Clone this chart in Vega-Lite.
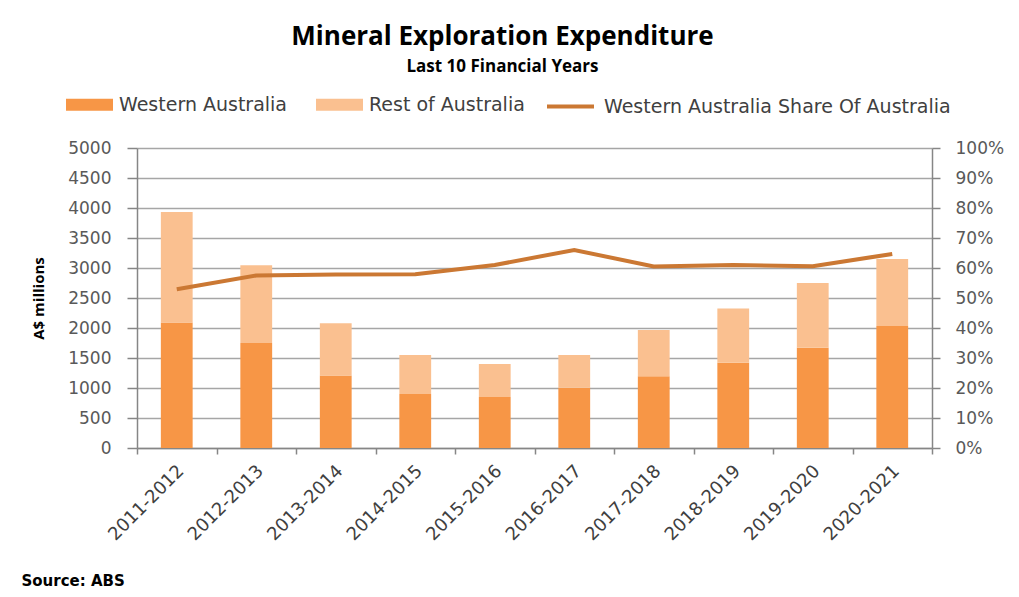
{
  "$schema": "https://vega.github.io/schema/vega-lite/v6.json",
  "autosize": {"type": "none"},
  "width": 795,
  "height": 300,
  "padding": {"left": 137, "top": 148, "right": 87, "bottom": 149},
  "background": "white",
  "title": {
    "text": "Mineral Exploration Expenditure",
    "subtitle": "Last 10 Financial Years",
    "anchor": "middle",
    "frame": "group",
    "dx": -32,
    "offset": 6,
    "font": "Open Sans",
    "fontSize": 26,
    "fontWeight": "bold",
    "color": "#000000",
    "subtitleFont": "Open Sans",
    "subtitleFontSize": 17,
    "subtitleFontWeight": "bold",
    "subtitleColor": "#000000",
    "subtitlePadding": 9
  },
  "data": {
    "values": [
      {"year": "2011-2012", "Western Australia": 2090, "Rest of Australia": 1845, "share": 0.529},
      {"year": "2012-2013", "Western Australia": 1750, "Rest of Australia": 1295, "share": 0.575},
      {"year": "2013-2014", "Western Australia": 1210, "Rest of Australia": 870, "share": 0.578},
      {"year": "2014-2015", "Western Australia": 900, "Rest of Australia": 650, "share": 0.579},
      {"year": "2015-2016", "Western Australia": 850, "Rest of Australia": 550, "share": 0.61},
      {"year": "2016-2017", "Western Australia": 1005, "Rest of Australia": 545, "share": 0.66},
      {"year": "2017-2018", "Western Australia": 1195, "Rest of Australia": 770, "share": 0.605},
      {"year": "2018-2019", "Western Australia": 1420, "Rest of Australia": 905, "share": 0.61},
      {"year": "2019-2020", "Western Australia": 1670, "Rest of Australia": 1080, "share": 0.606},
      {"year": "2020-2021", "Western Australia": 2035, "Rest of Australia": 1115, "share": 0.647}
    ]
  },
  "layer": [
    {
      "transform": [
        {"fold": ["Western Australia", "Rest of Australia"], "as": ["series", "value"]}
      ],
      "mark": {"type": "bar", "width": {"band": 0.4}},
      "encoding": {
        "x": {
          "field": "year",
          "type": "nominal",
          "scale": {"paddingInner": 0, "paddingOuter": 0},
          "axis": {
            "labelAngle": -45,
            "labelFont": "DejaVu Sans",
            "labelFontSize": 18,
            "labelColor": "#404040",
            "labelPadding": 14,
            "labelOffset": 4,
            "labelBaseline": "middle",
            "tickBand": "extent",
            "tickSize": 6,
            "title": "Source: ABS",
            "titleFont": "DejaVu Sans",
            "titleFontSize": 15,
            "titleFontWeight": "bold",
            "titleColor": "#000000",
            "titleAnchor": "start",
            "titleAlign": "left",
            "titleBaseline": "top",
            "titleX": -116,
            "titleY": 125
          }
        },
        "y": {
          "field": "value",
          "type": "quantitative",
          "stack": "zero",
          "scale": {"domain": [0, 5000]},
          "axis": {
            "values": [0, 500, 1000, 1500, 2000, 2500, 3000, 3500, 4000, 4500, 5000],
            "format": "d",
            "grid": true,
            "gridColor": "#A6A6A6",
            "gridWidth": 1.5,
            "labelFont": "DejaVu Sans",
            "labelFontSize": 17,
            "labelColor": "#595959",
            "labelPadding": 16,
            "tickSize": 10,
            "title": "A$ millions",
            "titleFont": "Open Sans",
            "titleFontSize": 15,
            "titleFontWeight": "bold",
            "titleColor": "#000000",
            "titleX": -91
          }
        },
        "color": {
          "field": "series",
          "type": "nominal",
          "sort": ["Western Australia", "Rest of Australia"],
          "scale": {
            "domain": ["Western Australia", "Rest of Australia"],
            "range": ["#F79646", "#FAC090"]
          },
          "legend": {
            "title": null,
            "orient": "none",
            "direction": "horizontal",
            "legendX": -71,
            "legendY": -67,
            "symbolType": "M-1,-0.255H1V0.255H-1Z",
            "symbolSize": 2209,
            "symbolStrokeWidth": 0,
            "symbolOpacity": 1,
            "labelFont": "DejaVu Sans",
            "labelFontSize": 19,
            "labelColor": "#404040",
            "labelOffset": 6,
            "labelLimit": 0,
            "columnPadding": 28
          }
        }
      }
    },
    {
      "mark": {"type": "line", "strokeWidth": 4},
      "encoding": {
        "x": {"field": "year", "type": "nominal"},
        "y": {
          "field": "share",
          "type": "quantitative",
          "scale": {"domain": [0, 1]},
          "axis": {
            "orient": "right",
            "values": [0, 0.1, 0.2, 0.3, 0.4, 0.5, 0.6, 0.7, 0.8, 0.9, 1],
            "format": ".0%",
            "grid": false,
            "labelFont": "DejaVu Sans",
            "labelFontSize": 17,
            "labelColor": "#595959",
            "labelPadding": 15,
            "tickSize": 8,
            "title": null
          }
        },
        "stroke": {
          "datum": "Western Australia Share Of Australia",
          "type": "nominal",
          "scale": {"range": ["#CB7833"]},
          "legend": {
            "title": null,
            "orient": "none",
            "direction": "horizontal",
            "legendX": 408,
            "legendY": -67,
            "symbolType": "stroke",
            "symbolSize": 2209,
            "symbolStrokeWidth": 4,
            "labelFont": "DejaVu Sans",
            "labelFontSize": 19,
            "labelColor": "#404040",
            "labelOffset": 8,
            "labelLimit": 0
          }
        }
      }
    }
  ],
  "resolve": {"scale": {"y": "independent"}},
  "config": {
    "view": {"stroke": null},
    "axis": {
      "domainColor": "#868686",
      "domainWidth": 1.5,
      "tickColor": "#868686",
      "tickWidth": 1.5
    }
  }
}
